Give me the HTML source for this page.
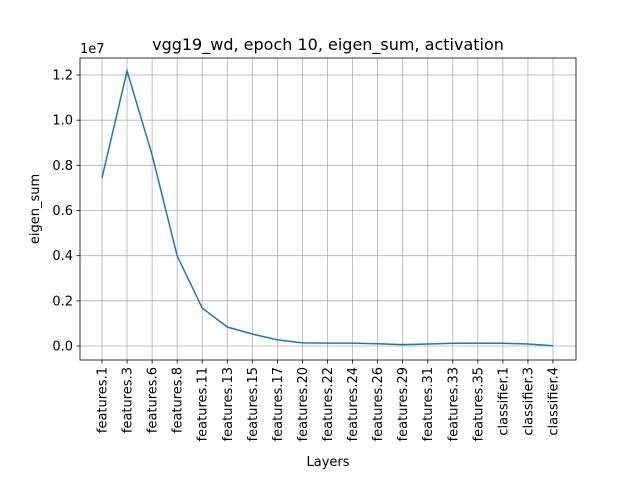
<!DOCTYPE html>
<html><head><meta charset="utf-8"><style>body{margin:0;background:#fff}svg{display:block;font-family:"DejaVu Sans","Liberation Sans",sans-serif}</style></head>
<body>
<svg id="c" width="640" height="480"></svg>
<script>
const categories=["features.1","features.3","features.6","features.8","features.11","features.13","features.15","features.17","features.20","features.22","features.24","features.26","features.29","features.31","features.33","features.35","classifier.1","classifier.3","classifier.4"];
const values=[0.744,1.218,0.846,0.399,0.168,0.084,0.053,0.027,0.014,0.013,0.013,0.010,0.006,0.009,0.012,0.013,0.012,0.009,0.001];
const yTicks=[0,0.2,0.4,0.6,0.8,1.0,1.2];
const L=80,R=576,T=58,B=360;
const xs=i=>102+i*(553-102)/(categories.length-1);
const ys=v=>346-v*(346-75)/1.2;
const s=document.getElementById('c');const NS='http://www.w3.org/2000/svg';
function mk(t,a,txt){const e=document.createElementNS(NS,t);for(const k in a)e.setAttribute(k,a[k]);if(txt!==undefined)e.textContent=txt;s.appendChild(e);return e;}
categories.forEach((c,i)=>{const x=xs(i);
const g=mk('line',{x1:x,x2:x,y1:T,y2:B,stroke:'#b0b0b0','stroke-width':0.8});


mk('line',{x1:x,x2:x,y1:B,y2:B+3.5,stroke:'#000','stroke-width':0.8});
const t=mk('text',{x:0,y:0,'font-size':13,'text-anchor':'end',transform:`translate(${x+4.5},${B+7}) rotate(-90)`},c);

});
yTicks.forEach(v=>{const y=ys(v);
const g=mk('line',{x1:L,x2:R,y1:y,y2:y,stroke:'#b0b0b0','stroke-width':0.8});


mk('line',{x1:L-3.5,x2:L,y1:y,y2:y,stroke:'#000','stroke-width':0.8});
const t=mk('text',{x:L-7,y:y+4.5,'font-size':13,'text-anchor':'end'},v.toFixed(1));

});
const p=mk('polyline',{points:values.map((v,i)=>xs(i)+','+ys(v)).join(' '),fill:'none',stroke:'#1f77b4','stroke-width':1.5});


const f=mk('rect',{x:L,y:T,width:R-L,height:B-T,fill:'none',stroke:'#000','stroke-width':0.8});


</script>
<svg style="position:absolute;left:0;top:0" width="640" height="480">
<text x="328" y="50" font-size="16" text-anchor="middle">vgg19_wd, epoch 10, eigen_sum, activation</text>
<text x="80" y="53" font-size="13">1e7</text>
<text x="0" y="0" font-size="13" text-anchor="middle" transform="translate(39,209) rotate(-90)">eigen_sum</text>
<text x="328" y="466" font-size="13" text-anchor="middle">Layers</text>
</svg>
</body></html>
